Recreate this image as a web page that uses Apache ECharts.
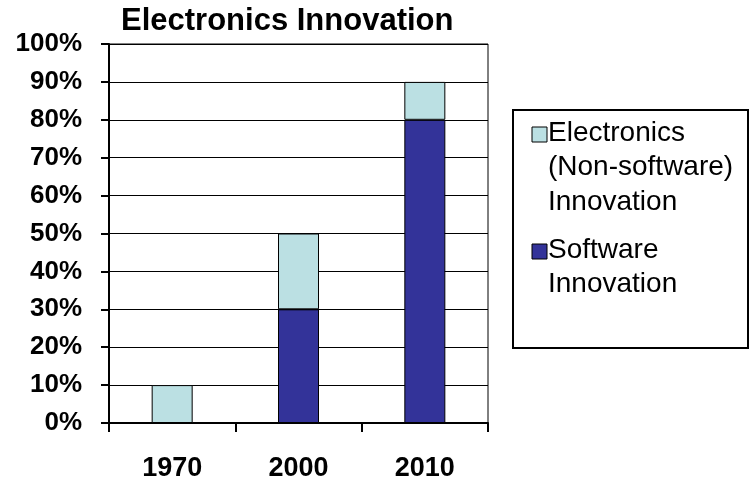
<!DOCTYPE html>
<html>
<head>
<meta charset="utf-8">
<title>Electronics Innovation</title>
<script src="https://cdn.jsdelivr.net/npm/echarts@6/dist/echarts.min.js"></script>
<style>
  html, body { margin: 0; padding: 0; background: #fff; }
  #chart { width: 749px; height: 485px; }
</style>
</head>
<body>
<div id="chart"></div>
<script>
// Share of innovation, by year (percent)
const years = ['1970', '2000', '2010'];
const softwareShare = [0, 30, 80];
const electronicsShare = [10, 20, 10];
const seriesNames = ['Software\nInnovation', 'Electronics\n(Non-software)\nInnovation'];
const seriesColors = ['#333399', '#BBE0E3'];
const yTicks = { min: 0, max: 100, step: 10 };

const FONT = '"Liberation Sans", Arial, sans-serif';

const chart = echarts.init(document.getElementById('chart'), null, { renderer: 'canvas' });

// Legend box drawn on the right, electronics entry first
const legendEntries = [
  { name: seriesNames[1], color: seriesColors[1], markerY: 127, textY: 116 },
  { name: seriesNames[0], color: seriesColors[0], markerY: 244, textY: 233 }
];
const legendGraphics = [{
  type: 'rect',
  shape: { x: 513, y: 110, width: 235, height: 238 },
  style: { fill: '#fff', stroke: '#000', lineWidth: 2 }
}];
legendEntries.forEach(e => {
  legendGraphics.push({
    type: 'rect',
    shape: { x: 532, y: e.markerY, width: 15, height: 15 },
    style: { fill: e.color, stroke: '#000', lineWidth: 1 }
  });
  legendGraphics.push({
    type: 'text',
    x: 548, y: e.textY,
    style: {
      text: e.name, fill: '#000', font: '28px ' + FONT,
      lineHeight: 34.5, verticalAlign: 'top', align: 'left'
    }
  });
});

chart.setOption({
  animation: false,
  backgroundColor: '#fff',
  title: {
    text: 'Electronics Innovation',
    left: 121, top: 6,
    padding: 0,
    textStyle: { fontFamily: FONT, fontWeight: 'bold', fontSize: 31, color: '#000' }
  },
  grid: {
    left: 109, right: 261, top: 44, bottom: 62,
    show: true, borderColor: '#000', borderWidth: 1, backgroundColor: 'transparent'
  },
  xAxis: {
    type: 'category',
    data: years,
    boundaryGap: true,
    axisLine: { lineStyle: { color: '#000', width: 2 } },
    axisTick: { show: true, length: 9, alignWithLabel: false, lineStyle: { color: '#000', width: 2 } },
    axisLabel: { margin: 32, color: '#000', fontFamily: FONT, fontWeight: 'bold', fontSize: 27 },
    splitLine: { show: false }
  },
  yAxis: {
    type: 'value',
    min: yTicks.min, max: yTicks.max, interval: yTicks.step,
    axisLine: { show: true, lineStyle: { color: '#000', width: 2 } },
    axisTick: { show: true, length: 8, lineStyle: { color: '#000', width: 2 } },
    axisLabel: {
      margin: 27, color: '#000', fontFamily: FONT, fontWeight: 'bold', fontSize: 26,
      formatter: '{value}%', padding: [4, 0, 0, 0]
    },
    splitLine: { show: true, lineStyle: { color: '#000', width: 1 } }
  },
  series: [
    {
      name: seriesNames[0], type: 'bar', stack: 'share', data: softwareShare,
      barWidth: 41,
      itemStyle: { color: seriesColors[0], borderColor: '#000', borderWidth: 1 }
    },
    {
      name: seriesNames[1], type: 'bar', stack: 'share', data: electronicsShare,
      barWidth: 41,
      itemStyle: { color: seriesColors[1], borderColor: '#000', borderWidth: 1 }
    }
  ],
  graphic: legendGraphics
});
</script>
</body>
</html>
